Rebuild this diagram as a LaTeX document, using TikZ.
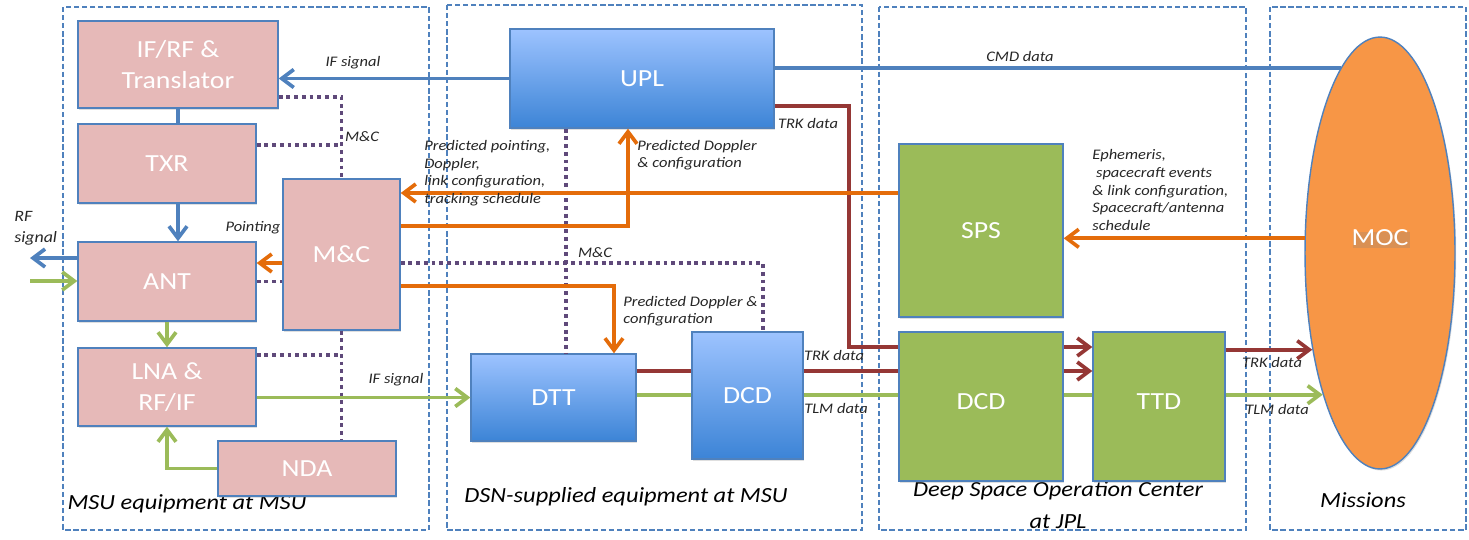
\documentclass[tikz,border=0pt]{standalone}
\usepackage{fontspec}
\setmainfont{Carlito}[FakeStretch=1.13]
\usetikzlibrary{arrows.meta,shapes.geometric,shadows}

\definecolor{boxline}{HTML}{4F81BD}
\definecolor{msupink}{HTML}{E6B9B8}
\definecolor{dsntop}{HTML}{9DC3FF}
\definecolor{dsnbot}{HTML}{3C84D6}
\definecolor{jplgreen}{HTML}{9BBB59}
\definecolor{mocorange}{HTML}{F79646}
\definecolor{sigblue}{HTML}{4F81BD}
\definecolor{sigorange}{HTML}{E46C0A}
\definecolor{siggreen}{HTML}{9BBB59}
\definecolor{sigred}{HTML}{953735}
\definecolor{mcpurple}{HTML}{5F497A}

\begin{document}
\begin{tikzpicture}[x=0.02cm,y=-0.02cm,
  box/.style={draw=boxline,line width=0.8pt,text=white,inner sep=0pt,align=center,
    font=\fontsize{14}{18}\selectfont,
    drop shadow={opacity=0.25,shadow xshift=0.7pt,shadow yshift=-0.9pt}},
  msu/.style={box,fill=msupink},
  dsn/.style={box,top color=dsntop,bottom color=dsnbot},
  jpl/.style={box,fill=jplgreen},
  area/.style={draw=boxline,line width=0.8pt,dash pattern=on 3pt off 1.6pt},
  lbl/.style={inner sep=0pt,text=black!85,font=\fontsize{8.3}{10}\selectfont\itshape},
  arealbl/.style={inner sep=0pt,align=center,font=\fontsize{12.3}{18.5}\selectfont\itshape},
  wire/.style={line width=2.1pt},
  sigarrow/.style={-{Straight Barb[length=2.4mm,width=3.6mm]}},
  mcline/.style={draw=mcpurple,line width=2.2pt,dash pattern=on 2.2pt off 2.2pt}]
\useasboundingbox (0,0) rectangle (1469,539);

% areas
\draw[area] (63,7) rectangle (429,530);
\draw[area] (447,5) rectangle (862,530);
\draw[area] (879,7) rectangle (1246,530);
\draw[area] (1270,7) rectangle (1466,530);
\node[arealbl] (amsu) at (187,504) {MSU equipment at MSU};
\node[arealbl] (adsn) at (626,497) {DSN-supplied equipment at MSU};
\node[arealbl] (ajpl) at (1058,505) {Deep Space Operation Center\\at JPL};
\node[arealbl] (amis) at (1363,500) {Missions};

% MSU boxes
\node[msu,minimum width=4cm,minimum height=1.74cm] (ifrf) at (178,64.5) {IF/RF \&\\Translator};
\node[msu,minimum width=3.56cm,minimum height=1.58cm] (txr) at (167,163.5) {TXR};
\node[msu,minimum width=3.56cm,minimum height=1.58cm] (ant) at (167,281.5) {ANT};
\node[msu,minimum width=2.34cm,minimum height=3.02cm] (mc) at (341.5,254.5) {M\&C};
\node[msu,minimum width=3.56cm,minimum height=1.56cm] (lna) at (167,387) {LNA \&\\RF/IF};
\node[msu,minimum width=3.56cm,minimum height=1.1cm] (nda) at (307,468.5) {NDA};

% DSN boxes
\node[dsn,minimum width=5.28cm,minimum height=1.98cm] (upl) at (642,78.5) {UPL};
\node[dsn,minimum width=3.3cm,minimum height=1.74cm] (dtt) at (553.5,397.5) {DTT};
\node[dsn,minimum width=2.22cm,minimum height=2.54cm] (dcdb) at (747.5,395.5) {DCD};

% JPL boxes
\node[jpl,minimum width=3.28cm,minimum height=3.46cm] (sps) at (981,230.5) {SPS};
\node[jpl,minimum width=3.28cm,minimum height=2.98cm] (dcdg) at (981,406.5) {\raisebox{0.2cm}{DCD}};
\node[jpl,minimum width=2.64cm,minimum height=2.98cm] (ttd) at (1159,406.5) {\raisebox{0.2cm}{TTD}};

% missions
\node[box,ellipse,fill=mocorange,minimum width=3cm,minimum height=8.64cm] (moc) at (1380,253) {};
\node[box,draw=none,drop shadow={opacity=0}] (moclbl) at (1380,238) {MOC};

% levels
\coordinate (rfout) at (30,258);
\coordinate (rfin) at (30,281);
\coordinate (trkA) at (849,106);
\coordinate (trkB) at (849,347);
\coordinate (trk) at (849,371);
\coordinate (tlm) at (849,395);

% M&C bus
\draw[mcline] ([yshift=-0.65cm]ifrf.east) -| (mc.north);
\draw[mcline] ([yshift=0.37cm]txr.east) -- ([yshift=0.37cm]txr.east -| mc.north);
\draw[mcline] (ant.east) -- (ant.east -| mc.west);
\draw[mcline] (mc.south) -- (mc.south |- nda.north);
\draw[mcline] ([yshift=0.64cm]lna.east) -- ([yshift=0.64cm]lna.east -| mc.south);
\draw[mcline] ([yshift=-0.17cm]mc.east) -| ([xshift=0.31cm]dcdb.north);
\draw[mcline] ([xshift=-1.52cm]upl.south) -- ([xshift=-1.52cm]upl.south |- dtt.north);

% uplink
\draw[wire,sigblue] (moc.102) -- (moc.102 -| upl.east);
\draw[wire,sigblue,sigarrow] (upl.west) -- (upl.west -| ifrf.east);
\draw[wire,sigblue] (ifrf.south) -- (ifrf.south |- txr.north);
\draw[wire,sigblue,sigarrow] (ifrf.south |- txr.south) -- (ifrf.south |- ant.north);
\draw[wire,sigblue,sigarrow] (ant.west |- rfout) -- (rfout);

% downlink
\draw[wire,siggreen,sigarrow] (rfin) -- (rfin -| ant.west);
\draw[wire,siggreen,sigarrow] (ant.south) -- (lna.north);
\draw[wire,siggreen,sigarrow] (nda.west) -| (lna.south);
\draw[wire,siggreen,sigarrow] (lna.east |- dtt.west) -- (dtt.west);
\draw[wire,siggreen] (dtt.east |- tlm) -- (dcdb.west |- tlm);
\draw[wire,sigred] (dtt.east |- trk) -- (dcdb.west |- trk);
\draw[wire,siggreen] (dcdb.east |- tlm) -- (dcdg.west |- tlm);
\draw[wire,sigred] (dcdb.east |- trk) -- (dcdg.west |- trk);
\draw[wire,sigred] (upl.east |- trkA) -- (trkA) -- (trkB) -- (trkB -| dcdg.west);
\draw[wire,sigred,sigarrow] (dcdg.east |- trkB) -- (ttd.west |- trkB);
\draw[wire,sigred,sigarrow] (dcdg.east |- trk) -- (ttd.west |- trk);
\draw[wire,siggreen] (dcdg.east |- tlm) -- (ttd.west |- tlm);
\draw[wire,sigred,sigarrow] (ttd.east |- moc.235) -- (moc.235);
\draw[wire,siggreen,sigarrow] (ttd.east |- moc.248) -- (moc.248);

% predicts
\draw[wire,sigorange,sigarrow] (moc.169) -- (moc.169 -| sps.east);
\draw[wire,sigorange,sigarrow] ([yshift=0.75cm]sps.west) -- ([yshift=0.75cm]sps.west -| mc.east);
\draw[wire,sigorange,sigarrow] ([yshift=0.57cm]mc.east) -| ([xshift=-0.28cm]upl.south);
\draw[wire,sigorange,sigarrow] ([yshift=-0.63cm]mc.east) -| ([xshift=1.21cm]dtt.north);
\draw[wire,sigorange,sigarrow] ([yshift=0.37cm]ant.east -| mc.west) -- ([yshift=0.37cm]ant.east);

% labels
\node[lbl] (lifup) at (353,63) {IF signal};
\node[lbl] (lcmd) at (1020,56) {CMD data};
\node[lbl] (lmcA) at (362,137) {M\&C};
\node[lbl,anchor=west,align=left] (lpredmc) at (424,173) {Predicted pointing,\\Doppler,\\link configuration,\\tracking schedule};
\node[lbl,anchor=west,align=left] (lpredupl) at (637,155) {Predicted Doppler\\\& configuration};
\node[lbl] (ltrkupl) at (808,123) {TRK data};
\node[lbl] (lpoint) at (253,228) {Pointing};
\node[lbl,anchor=west,align=left,font=\fontsize{9}{12}\selectfont\itshape] (lrf) at (14,228) {RF\\signal};
\node[lbl] (lmcB) at (595,253) {M\&C};
\node[lbl,anchor=west,align=left] (lpreddtt) at (623,311) {Predicted Doppler \&\\configuration};
\node[lbl] (lifdown) at (396,380) {IF signal};
\node[lbl] (ltrkdcd) at (834,355) {TRK data};
\node[lbl] (ltlmdcd) at (836,408) {TLM data};
\node[lbl,anchor=west,align=left] (leph) at (1092,190) {Ephemeris,\\\ spacecraft events\\\& link configuration,\\Spacecraft/antenna\\schedule};
\node[lbl] (ltrkmoc) at (1272,362) {TRK data};
\node[lbl] (ltlmmoc) at (1277,409) {TLM data};
\end{tikzpicture}
\end{document}
